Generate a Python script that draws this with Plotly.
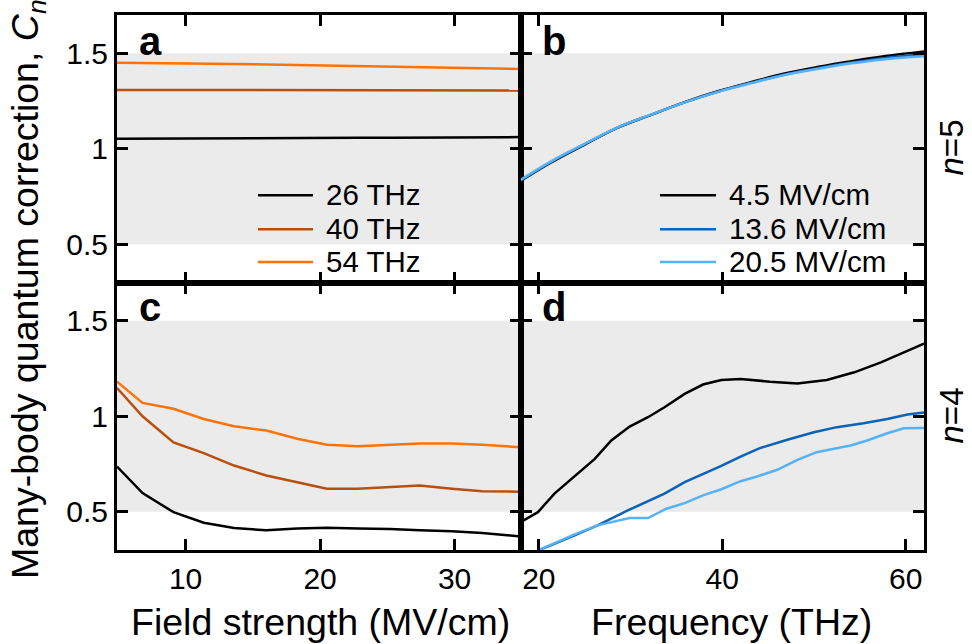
import plotly.graph_objects as go

# ---------------- data ----------------
field = [4.9, 6.8, 9.1, 11.35, 13.6, 16.0, 18.3, 20.5, 22.8, 25.2, 27.4, 29.8, 32.05, 34.9]
freq_labels = ["26 THz", "40 THz", "54 THz"]
field_labels = ["4.5 MV/cm", "13.6 MV/cm", "20.5 MV/cm"]

# panel a (n=5), C_n vs field strength
a_26 = [1.052, 1.053, 1.054, 1.054, 1.055, 1.056, 1.056, 1.057, 1.058, 1.058, 1.059, 1.060, 1.060, 1.061]
a_40 = [1.308, 1.308, 1.307, 1.307, 1.307, 1.306, 1.306, 1.306, 1.306, 1.305, 1.305, 1.305, 1.305, 1.305]
a_54 = [1.450, 1.449, 1.447, 1.445, 1.443, 1.441, 1.438, 1.436, 1.433, 1.430, 1.427, 1.424, 1.421, 1.418]

# panel c (n=4), C_n vs field strength
c_26 = [0.737, 0.598, 0.498, 0.443, 0.415, 0.403, 0.412, 0.417, 0.412, 0.410, 0.403, 0.398, 0.389, 0.371]
c_40 = [1.148, 1.000, 0.863, 0.807, 0.742, 0.690, 0.655, 0.621, 0.621, 0.629, 0.638, 0.621, 0.608, 0.605]
c_54 = [1.181, 1.070, 1.039, 0.986, 0.948, 0.925, 0.882, 0.851, 0.843, 0.851, 0.857, 0.857, 0.851, 0.838]

# panel b (n=5), C_n vs frequency
b_freq = [18.0, 21.3, 25.0, 28.6, 32.3, 35.9, 39.6, 43.2, 46.8, 50.5, 54.1, 57.8, 62.0]
b_45 = [0.831, 0.927, 1.022, 1.110, 1.179, 1.244, 1.302, 1.349, 1.394, 1.429, 1.458, 1.485, 1.509]
b_136 = [0.834, 0.930, 1.024, 1.111, 1.179, 1.243, 1.300, 1.346, 1.389, 1.423, 1.451, 1.475, 1.494]
b_205 = [0.837, 0.933, 1.026, 1.112, 1.180, 1.243, 1.299, 1.344, 1.386, 1.419, 1.447, 1.469, 1.484]

# panel d (n=4), C_n vs frequency
d_freq_45 = [18.0, 19.9, 21.7, 24.0, 26.1, 27.9, 29.9, 31.9, 33.7, 35.9, 37.9, 39.9,
             42.0, 45.2, 48.2, 51.4, 54.4, 57.3, 59.8, 62.0]
d_45 = [0.446, 0.498, 0.595, 0.690, 0.777, 0.873, 0.946, 0.995, 1.047, 1.117, 1.166, 1.190,
        1.195, 1.181, 1.172, 1.190, 1.230, 1.282, 1.334, 1.380]
d_freq_136 = [19.9, 21.3, 23.9, 26.4, 29.7, 33.7, 35.9, 39.9, 42.0, 44.1, 47.1, 50.0,
              52.5, 55.4, 58.0, 60.2, 62.0]
d_136 = [0.298, 0.324, 0.377, 0.429, 0.507, 0.595, 0.655, 0.740, 0.789, 0.833, 0.877, 0.916,
         0.943, 0.963, 0.986, 1.009, 1.020]
d_freq_205 = [19.9, 23.9, 26.4, 27.9, 29.9, 31.9, 33.9, 35.9, 37.9, 39.9, 42.0, 43.8,
              46.0, 48.2, 50.3, 52.2, 54.0, 55.8, 58.0, 59.8, 62.0]
d_205 = [0.298, 0.382, 0.429, 0.446, 0.467, 0.467, 0.516, 0.545, 0.586, 0.618, 0.660, 0.685,
         0.720, 0.772, 0.812, 0.830, 0.847, 0.873, 0.911, 0.937, 0.939]

y_ticks = [0.5, 1, 1.5]
y_ticktext = ["0.5", "1", "1.5"]
field_ticks = [10, 20, 30]
freq_ticks = [20, 40, 60]
x_titles = ["Field strength (MV/cm)", "Frequency (THz)"]
y_title = "Many-body quantum correction, <i>C<sub>n</sub></i>"
n_labels = ["<i>n</i>=5", "<i>n</i>=4"]

# ---------------- style ----------------
FONT = "Liberation Sans, Arial, Helvetica, sans-serif"
orange_cols = ["#000000", "#b94e0d", "#ff7306"]
blue_cols = ["#000000", "#0a63b6", "#56b2f5"]
LW = 2.5
W, H = 972, 644
ML, MR, MT, MB = 117, 48, 13, 94
PW, PH = W - ML - MR, H - MT - MB


def X(px):
    return (px - ML) / PW


def Y(py):
    return (H - MB - py) / PH


fig = go.Figure()

for ys, col, name in zip([a_26, a_40, a_54], orange_cols, freq_labels):
    fig.add_trace(go.Scatter(x=field, y=ys, mode="lines", line=dict(color=col, width=LW),
                             name=name, xaxis="x", yaxis="y", showlegend=False))
for ys, col, name in zip([c_26, c_40, c_54], orange_cols, freq_labels):
    fig.add_trace(go.Scatter(x=field, y=ys, mode="lines", line=dict(color=col, width=LW),
                             name=name, xaxis="x3", yaxis="y3", showlegend=False))
for ys, col, name in zip([b_45, b_136, b_205], blue_cols, field_labels):
    fig.add_trace(go.Scatter(x=b_freq, y=ys, mode="lines", line=dict(color=col, width=LW, shape="spline"),
                             name=name, xaxis="x2", yaxis="y2", showlegend=False))
for xs, ys, col, name in zip([d_freq_45, d_freq_136, d_freq_205], [d_45, d_136, d_205], blue_cols, field_labels):
    fig.add_trace(go.Scatter(x=xs, y=ys, mode="lines", line=dict(color=col, width=LW),
                             name=name, xaxis="x4", yaxis="y4", showlegend=False))

axis_common = dict(ticks="inside", ticklen=11, tickwidth=3, tickcolor="black",
                   showline=True, linewidth=3, linecolor="black", mirror="ticks",
                   showgrid=False, zeroline=False,
                   tickfont=dict(size=30, color="black", family=FONT))

fig.update_layout(
    width=W, height=H,
    margin=dict(l=ML, r=MR, t=MT, b=MB),
    paper_bgcolor="white", plot_bgcolor="white",
    font=dict(family=FONT, color="black"),
    xaxis=dict(domain=[0, 0.5], anchor="y", range=[4.9, 34.9], tickvals=field_ticks,
               showticklabels=False, **axis_common),
    xaxis3=dict(domain=[0, 0.5], anchor="y3", range=[4.9, 34.9], tickvals=field_ticks,
                **axis_common),
    xaxis2=dict(domain=[0.5, 1], anchor="y2", range=[18, 62], tickvals=freq_ticks,
                showticklabels=False, **axis_common),
    xaxis4=dict(domain=[0.5, 1], anchor="y4", range=[18, 62], tickvals=freq_ticks,
                **axis_common),
    yaxis=dict(domain=[0.5, 1], anchor="x", range=[0.3, 1.7], tickvals=y_ticks,
               ticktext=y_ticktext, **axis_common),
    yaxis3=dict(domain=[0, 0.5], anchor="x3", range=[0.3, 1.7], tickvals=y_ticks,
                ticktext=y_ticktext, **axis_common),
    yaxis2=dict(domain=[0.5, 1], anchor="x2", range=[0.3, 1.7], tickvals=y_ticks,
                showticklabels=False, **axis_common),
    yaxis4=dict(domain=[0, 0.5], anchor="x4", range=[0.3, 1.7], tickvals=y_ticks,
                showticklabels=False, **axis_common),
)

# grey band between 0.5 and 1.5
for xa, ya in [("x", "y"), ("x2", "y2"), ("x3", "y3"), ("x4", "y4")]:
    fig.add_shape(type="rect", xref=f"{xa} domain", yref=ya, x0=0, x1=1, y0=0.5, y1=1.5,
                  fillcolor="#ebebeb", line=dict(width=0), layer="below")

# legends (custom, long line samples)
rows_py = [194, 228, 261]
for labels, cols, lx0, lx1, tx in [(freq_labels, orange_cols, 258, 313, 324),
                                   (field_labels, blue_cols, 660, 716, 727)]:
    for lab, col, py in zip(labels, cols, rows_py):
        fig.add_shape(type="line", xref="paper", yref="paper", x0=X(lx0), x1=X(lx1),
                      y0=Y(py), y1=Y(py), line=dict(color=col, width=LW))
        fig.add_annotation(xref="paper", yref="paper", x=X(tx), y=Y(py - 1), text=lab,
                           showarrow=False, xanchor="left", yanchor="middle",
                           font=dict(size=29.5, color="black"))

# panel letters
for letter, px, py in [("a", 137, 39), ("b", 540, 39), ("c", 137, 306), ("d", 540, 306)]:
    fig.add_annotation(xref="paper", yref="paper", x=X(px), y=Y(py), text=f"<b>{letter}</b>",
                       showarrow=False, xanchor="left", yanchor="middle",
                       font=dict(size=40, color="black"))

# x-axis titles
for txt, px in zip(x_titles, [320, 731]):
    fig.add_annotation(xref="paper", yref="paper", x=X(px), y=Y(622), text=txt,
                       showarrow=False, xanchor="center", yanchor="middle",
                       font=dict(size=37.5, color="black"))

# n labels
for txt, py in zip(n_labels, [146, 415]):
    fig.add_annotation(xref="paper", yref="paper", x=X(952), y=Y(py), text=txt, textangle=-90,
                       showarrow=False, xanchor="center", yanchor="middle",
                       font=dict(size=33, color="black"))

# y-axis title
fig.add_annotation(xref="paper", yref="paper", x=X(28), y=Y(289),
                   text=y_title, textangle=-90,
                   showarrow=False, xanchor="center", yanchor="middle",
                   font=dict(size=37.5, color="black"))

fig.write_html("out.html")
